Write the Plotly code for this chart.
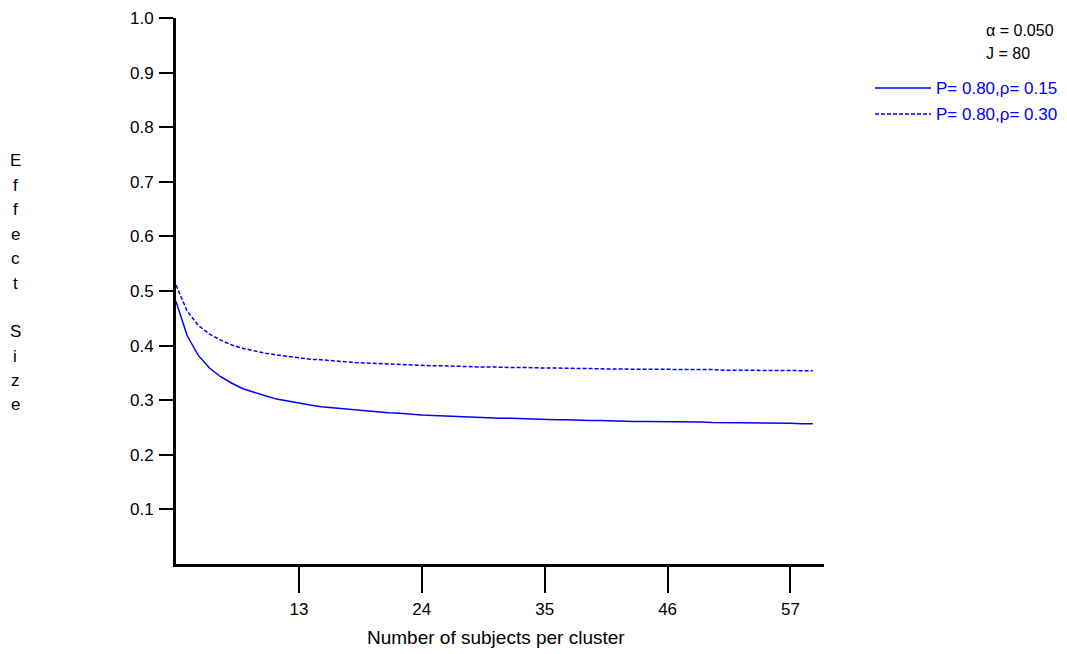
import plotly.graph_objects as go

# Data
n_subjects = list(range(2, 60))
es_rho15 = [0.481, 0.418, 0.382, 0.359, 0.343, 0.331, 0.321, 0.314, 0.308, 0.302,
            0.298, 0.294, 0.291, 0.288, 0.286, 0.284, 0.282, 0.280, 0.278, 0.277,
            0.276, 0.274, 0.273, 0.272, 0.271, 0.270, 0.269, 0.269, 0.268, 0.267,
            0.267, 0.266, 0.265, 0.265, 0.264, 0.264, 0.263, 0.263, 0.263, 0.262,
            0.262, 0.261, 0.261, 0.261, 0.260, 0.260, 0.260, 0.260, 0.259, 0.259,
            0.259, 0.259, 0.258, 0.258, 0.258, 0.258, 0.257, 0.257]
es_rho30 = [0.511, 0.463, 0.437, 0.421, 0.410, 0.401, 0.395, 0.390, 0.386, 0.383,
            0.380, 0.377, 0.375, 0.374, 0.372, 0.371, 0.369, 0.368, 0.367, 0.366,
            0.365, 0.365, 0.364, 0.363, 0.363, 0.362, 0.362, 0.361, 0.361, 0.360,
            0.360, 0.360, 0.359, 0.359, 0.359, 0.358, 0.358, 0.358, 0.357, 0.357,
            0.357, 0.357, 0.357, 0.356, 0.356, 0.356, 0.356, 0.356, 0.356, 0.355,
            0.355, 0.355, 0.355, 0.355, 0.355, 0.355, 0.354, 0.354]
series_names = ["P= 0.80,\u03c1= 0.15", "P= 0.80,\u03c1= 0.30"]
x_ticks = [13, 24, 35, 46, 57]
y_ticks = [0.1, 0.2, 0.3, 0.4, 0.5, 0.6, 0.7, 0.8, 0.9, 1.0]
y_title = "Effect Size"
x_title = "Number of subjects per cluster"
info_lines = ["\u03b1 = 0.050", "J = 80"]

W, H = 1067, 654
# target plot area in page pixels
L_REF, T_REF, PW, PH = 176, 18, 648, 546
OFF = 8  # page body offset
L, T = L_REF - OFF, T_REF - OFF
R, B = W - L - PW, H - T - PH

def px(xp):
    return (xp - L_REF) / PW

def py(yp):
    return (T_REF + PH - yp) / PH

FONT = "Liberation Sans, Arial, sans-serif"
BLUE = "#0000FF"

fig = go.Figure()
fig.add_trace(go.Scatter(x=n_subjects, y=es_rho15, mode="lines", name=series_names[0],
                         line=dict(color=BLUE, width=1.5)))
fig.add_trace(go.Scatter(x=n_subjects, y=es_rho30, mode="lines", name=series_names[1],
                         line=dict(color=BLUE, width=1.5, dash="4px,2px")))

annotations = []
# stacked y-axis title
k = 0
for ch in y_title:
    if ch != " ":
        annotations.append(dict(x=px(15), y=py(161 + 24.4 * k), xref="paper", yref="paper",
                                text=ch, showarrow=False, xanchor="center", yanchor="middle",
                                font=dict(family=FONT, size=17, color="black")))
    k += 1
# x title
annotations.append(dict(x=px(496), y=py(637), xref="paper", yref="paper", text=x_title,
                        showarrow=False, xanchor="center", yanchor="middle",
                        font=dict(family=FONT, size=19, color="black")))
# info text
for i, t in enumerate(info_lines):
    annotations.append(dict(x=px(984), y=py(30 + 24 * i), xref="paper", yref="paper", text=t,
                            showarrow=False, xanchor="left", yanchor="middle",
                            font=dict(family=FONT, size=16, color="black")))
# legend
shapes = []
dashes = ["solid", "4px,2px"]
for i, name in enumerate(series_names):
    yy = py(88 + 26 * i)
    shapes.append(dict(type="line", xref="paper", yref="paper", x0=px(875), x1=px(931),
                       y0=yy, y1=yy, line=dict(color=BLUE, width=1.3, dash=dashes[i])))
    annotations.append(dict(x=px(934), y=yy, xref="paper", yref="paper", text=name,
                            showarrow=False, xanchor="left", yanchor="middle",
                            font=dict(family=FONT, size=17, color=BLUE)))

fig.update_layout(
    width=W, height=H,
    margin=dict(l=L, r=R, t=T, b=B, autoexpand=False),
    paper_bgcolor="white", plot_bgcolor="white",
    showlegend=False,
    font=dict(family=FONT, size=17, color="black"),
    annotations=annotations,
    shapes=shapes,
    xaxis=dict(range=[2, 60], tickvals=x_ticks, ticktext=[str(v) for v in x_ticks],
               automargin=False,
               showgrid=False, zeroline=False, showline=True, linecolor="black", linewidth=3,
               ticks="outside", ticklen=26, tickwidth=1.5, tickcolor="black",
               ticklabelstandoff=2,
               tickfont=dict(family=FONT, size=17, color="black")),
    yaxis=dict(range=[0, 1], tickvals=y_ticks, ticktext=[f"{v:.1f}" for v in y_ticks],
               automargin=False,
               showgrid=False, zeroline=False, showline=True, linecolor="black", linewidth=3,
               ticks="outside", ticklen=14, tickwidth=1.5, tickcolor="black",
               ticklabelstandoff=2,
               tickfont=dict(family=FONT, size=17, color="black")),
)

fig.write_html("out.html")
